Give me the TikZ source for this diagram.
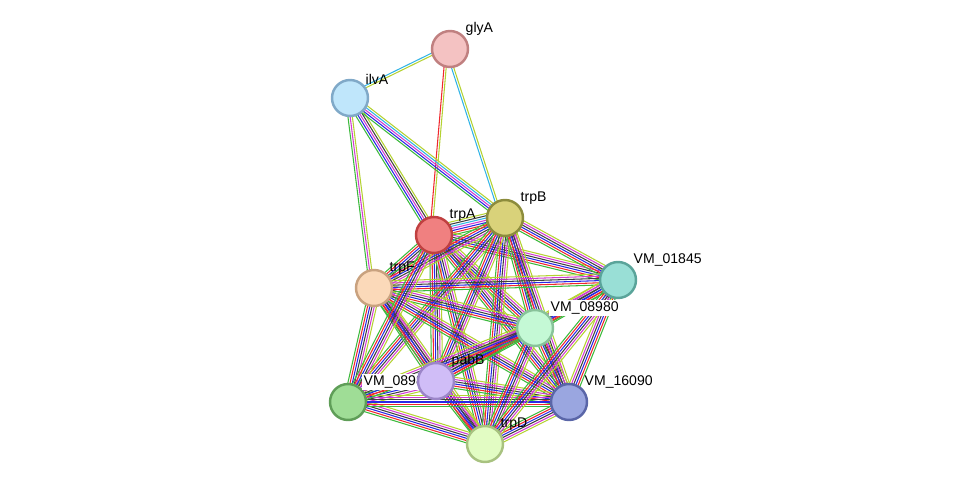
\documentclass[tikz,border=0pt]{standalone}
\usepackage{fontspec}
\setmainfont{Liberation Sans}
\usetikzlibrary{calc,positioning}
\definecolor{cg}{HTML}{3CB93C}
\definecolor{cr}{HTML}{F0282D}
\definecolor{cb}{HTML}{2828E6}
\definecolor{cm}{HTML}{D23CD2}
\definecolor{cy}{HTML}{B4D232}
\definecolor{cl}{HTML}{32B4E6}
\definecolor{ck}{HTML}{404040}
\tikzset{
  lnk/.style={line width=0.6pt},
  prot/.style={circle, draw, line width=1.4pt, minimum size=0.72cm, inner sep=0pt},
  lbl/.style={font=\fontsize{8}{9}\selectfont, inner sep=1pt}
}
% one coloured strand per entry of #3
\newcommand\lnk[3]{%
  \foreach \c [count=\i] in {#3}{%
    \pgfmathsetmacro\off{(\i-3)*1.25}
    \draw[lnk,color=\c] ($(#1)!\off pt!90:(#2)$) -- ($(#2)!\off pt!-90:(#1)$);}}
\begin{document}
\begin{tikzpicture}[x=0.02cm,y=-0.02cm]
  \useasboundingbox (0,0) rectangle (975,490);
  % positions
  \coordinate (glyA) at (450,49);
  \coordinate (ilvA) at (350,98);
  \coordinate (trpB) at (505,218);
  \coordinate (trpA) at (434,235);
  \coordinate (trpF) at (374,288);
  \coordinate (v1845) at (618,280);
  \coordinate (v8980) at (535,328);
  \coordinate (pabB) at (436,381);
  \coordinate (v8985) at (348,402);
  \coordinate (v16090) at (569,402);
  \coordinate (trpD) at (485,444);
  % links
  \lnk{glyA}{ilvA}{cl,cy}
  \lnk{glyA}{trpA}{cr,cy}
  \lnk{glyA}{trpB}{cl,cy}
  \lnk{ilvA}{trpA}{cg,cb,cm,ck,cy}
  \lnk{ilvA}{trpB}{cg,cb,cm,cl,cy}
  \lnk{ilvA}{trpF}{cg,cm,cy}
  \lnk{trpA}{trpB}{cg,cr,cb,cm,cl,ck,cy}
  \foreach \a/\b in {trpA/trpF,trpA/v8980,trpA/pabB,trpA/trpD,trpA/v16090,trpA/v1845,
    trpB/trpF,trpB/v8980,trpB/trpD,trpB/v16090,trpB/v8985,trpB/pabB,trpB/v1845,
    trpF/pabB,trpF/trpD,trpF/v8985,trpF/v8980,trpF/v1845,trpF/v16090,
    pabB/v8985,pabB/trpD,pabB/v16090,pabB/v8980,pabB/v1845,
    v8985/trpD,v8985/v16090,v8985/v8980,v8980/v1845,v8980/v16090,v8980/trpD,
    v16090/trpD,v16090/v1845,v1845/trpD,trpA/v8985}
    {\lnk{\a}{\b}{cg,cr,cb,ck,cm,cy}}
  % proteins
  \node[prot,fill={rgb,255:red,244;green,194;blue,194},draw={rgb,255:red,192;green,128;blue,128}] (n1) at (glyA) {};
  \node[lbl,above right=-1pt and 0pt of n1.north east] {glyA};
  \node[prot,fill={rgb,255:red,191;green,230;blue,251},draw={rgb,255:red,128;green,169;blue,200}] (n2) at (ilvA) {};
  \node[lbl,above right=-1pt and 0pt of n2.north east] {ilvA};
  \node[prot,fill={rgb,255:red,217;green,210;blue,122},draw={rgb,255:red,140;green,140;blue,60}] (n3) at (trpB) {};
  \node[lbl,above right=-1pt and 0pt of n3.north east] {trpB};
  \node[prot,fill={rgb,255:red,240;green,128;blue,128},draw={rgb,255:red,192;green,64;blue,64}] (n4) at (trpA) {};
  \node[lbl,above right=-1pt and 0pt of n4.north east] {trpA};
  \node[prot,fill={rgb,255:red,251;green,217;blue,185},draw={rgb,255:red,201;green,162;blue,127}] (n5) at (trpF) {};
  \node[lbl,above right=-1pt and 0pt of n5.north east] {trpF};
  \node[prot,fill={rgb,255:red,153;green,223;blue,214},draw={rgb,255:red,90;green,164;blue,154}] (n6) at (v1845) {};
  \node[lbl,above right=-1pt and 0pt of n6.north east] {VM\_01845};
  \node[prot,fill={rgb,255:red,196;green,249;blue,213},draw={rgb,255:red,136;green,195;blue,154}] (n7) at (v8980) {};
  \node[lbl,fill=white,above right=-1pt and 0pt of n7.north east] {VM\_08980};
  \node[prot,fill={rgb,255:red,159;green,221;blue,150},draw={rgb,255:red,95;green,158;blue,88}] (n9) at (v8985) {};
  \node[lbl,fill=white,above right=-1pt and 0pt of n9.north east] {VM\_08985};
  \node[prot,fill={rgb,255:red,208;green,189;blue,247},draw={rgb,255:red,156;green,133;blue,200}] (n8) at (pabB) {};
  \node[lbl,above right=-1pt and 0pt of n8.north east] {pabB};
  \node[prot,fill={rgb,255:red,154;green,166;blue,224},draw={rgb,255:red,90;green,102;blue,168}] (n10) at (v16090) {};
  \node[lbl,above right=-1pt and 0pt of n10.north east] {VM\_16090};
  \node[prot,fill={rgb,255:red,226;green,252;blue,195},draw={rgb,255:red,168;green,194;blue,128}] (n11) at (trpD) {};
  \node[lbl,above right=-1pt and 0pt of n11.north east] {trpD};
\end{tikzpicture}
\end{document}
